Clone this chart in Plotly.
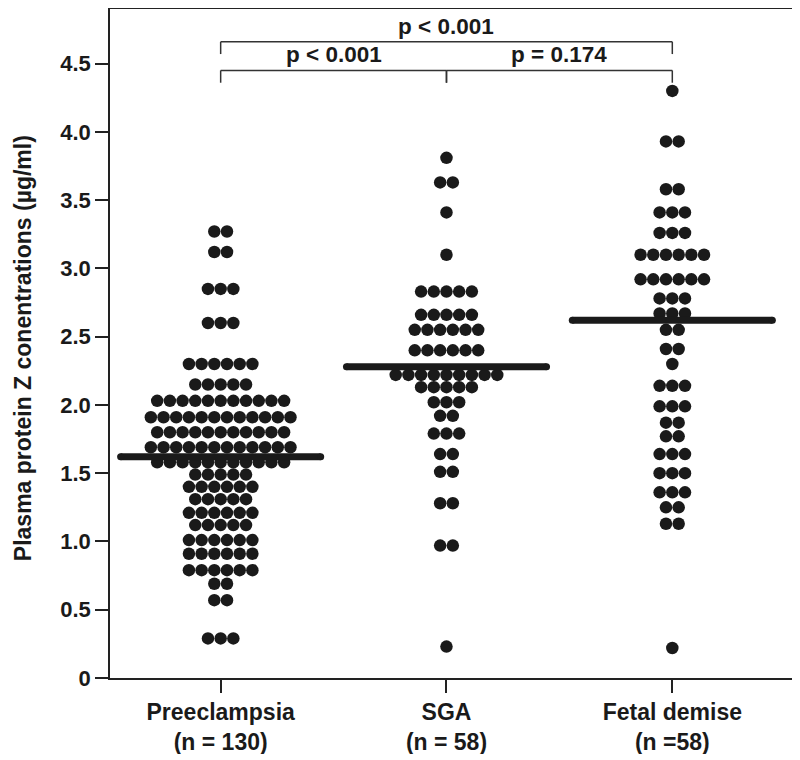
import plotly.graph_objects as go

# ---- data ----
categories = ["Preeclampsia<br>(n = 130)", "SGA<br>(n = 58)", "Fetal demise<br>(n =58)"]

# dot rows: value levels and the number of dots at each level
pe_levels = [3.27, 3.12, 2.85, 2.60, 2.30, 2.15, 2.03, 1.91, 1.80, 1.69, 1.58, 1.49, 1.40,
             1.31, 1.21, 1.12, 1.01, 0.91, 0.79, 0.69, 0.57, 0.29]
pe_counts = [2, 2, 3, 3, 6, 5, 11, 12, 11, 12, 11, 5, 6, 5, 6, 5, 6, 6, 6, 2, 2, 3]

sga_levels = [3.81, 3.63, 3.41, 3.10, 2.83, 2.66, 2.55, 2.40, 2.22, 2.13, 2.02, 1.92, 1.79,
              1.64, 1.51, 1.28, 0.97, 0.23]
sga_counts = [1, 2, 1, 1, 5, 5, 6, 6, 9, 5, 3, 2, 3, 2, 2, 2, 2, 1]

fd_levels = [4.30, 3.93, 3.58, 3.41, 3.26, 3.10, 2.92, 2.78, 2.67, 2.55, 2.41, 2.30, 2.14,
             1.99, 1.87, 1.77, 1.64, 1.50, 1.36, 1.25, 1.13, 0.22]
fd_counts = [1, 2, 2, 3, 3, 6, 6, 3, 3, 2, 2, 1, 3, 3, 2, 2, 3, 3, 3, 2, 2, 1]

medians = [1.62, 2.28, 2.62]

y_ticks = [0, 0.5, 1.0, 1.5, 2.0, 2.5, 3.0, 3.5, 4.0, 4.5]
y_tick_text = ["0", "0.5", "1.0", "1.5", "2.0", "2.5", "3.0", "3.5", "4.0", "4.5"]

comparisons = [  # (group a, group b, label, level)
    (0, 1, "p < 0.001", 0),
    (1, 2, "p = 0.174", 0),
    (0, 2, "p < 0.001", 1),
]

# ---- build ----
DOT_DX = 0.0562
FONT = "Liberation Sans, Arial, sans-serif"
INK = "#1a1a1a"

fig = go.Figure()

groups = [(pe_levels, pe_counts), (sga_levels, sga_counts), (fd_levels, fd_counts)]
for gi, (levels, counts) in enumerate(groups):
    xs, ys = [], []
    for v, n in zip(levels, counts):
        for i in range(n):
            xs.append(gi + (i - (n - 1) / 2) * DOT_DX)
            ys.append(v)
    fig.add_trace(go.Scatter(x=xs, y=ys, mode="markers",
                             marker=dict(size=12.5, color=INK, line=dict(width=0)),
                             showlegend=False, hoverinfo="y"))

HALF = 0.443
for gi, m in enumerate(medians):
    fig.add_trace(go.Scatter(x=[gi - HALF, gi + HALF], y=[m, m], mode="lines+markers",
                             line=dict(color=INK, width=7),
                             marker=dict(size=7, color=INK),
                             showlegend=False, hoverinfo="skip"))

# brackets
bracket_y = [4.45, 4.66]
drop = 0.09
for a, b, label, lev in comparisons:
    yb = bracket_y[lev]
    fig.add_shape(type="line", x0=a, x1=b, y0=yb, y1=yb, line=dict(color="#333", width=1.5))
    fig.add_shape(type="line", x0=a, x1=a, y0=yb, y1=yb - drop, line=dict(color="#333", width=1.5))
    fig.add_shape(type="line", x0=b, x1=b, y0=yb, y1=yb - drop, line=dict(color="#333", width=1.5))
    fig.add_annotation(x=(a + b) / 2, y=yb, text="<b>%s</b>" % label, showarrow=False,
                       yanchor="bottom", yshift=1,
                       font=dict(family=FONT, size=22.5, color=INK))

# y-axis title as annotation
fig.add_annotation(xref="paper", yref="paper", x=(23 - 110) / 682, y=0.493,
                   text="<b>Plasma protein Z conentrations (µg/ml)</b>", textangle=-90,
                   showarrow=False, xanchor="center", yanchor="middle",
                   font=dict(family=FONT, size=23, color=INK))

fig.update_layout(
    width=786, height=746,
    margin=dict(l=102, r=2, t=1, b=76),
    plot_bgcolor="white", paper_bgcolor="white",
    font=dict(family=FONT, size=22, color=INK),
    xaxis=dict(range=[-0.49, 2.53], tickvals=[0, 1, 2],
               ticktext=["<b>%s</b>" % c for c in categories],
               showline=True, linecolor="#222", linewidth=1.5, mirror=True,
               ticks="outside", ticklen=13, tickwidth=1.5, tickcolor="#222",
               showgrid=False, zeroline=False, automargin=False,
               tickfont=dict(family=FONT, size=23, color=INK)),
    yaxis=dict(range=[0, 4.9], tickvals=y_ticks,
               ticktext=["<b>%s</b>" % t for t in y_tick_text],
               showline=True, linecolor="#222", linewidth=1.5, mirror=True,
               ticks="outside", ticklen=13, tickwidth=1.5, tickcolor="#222",
               showgrid=False, zeroline=False, automargin=False,
               tickfont=dict(family=FONT, size=22, color=INK)),
)

fig.write_html("out.html")
